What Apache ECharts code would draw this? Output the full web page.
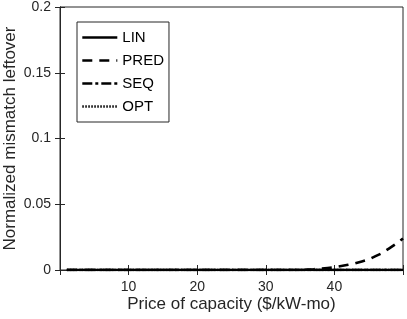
<!DOCTYPE html>
<html><head><meta charset="utf-8">
<script src="https://cdn.jsdelivr.net/npm/echarts@6/dist/echarts.min.js"></script>
<style>html,body{margin:0;padding:0;background:#fff}#c{width:407px;height:319px}</style>
</head><body><div id="c"></div>
<script>
const prices = [];
for (let p = 1; p <= 50; p++) prices.push(p);
const lin = [0,0,0,0,0,0,0,0,0,0,0,0,0,0,0,0,0,0,0,0,0,0,0,0,0,0,0,0,0,0,0,0,0,0,0,0,0,0,0,0,0,0,0,0,0,0,0,0,0,0];
const pred = [0,0,0,0,0,0,0,0,0,0,0,0,0,0,0,0,0,0,0,0,0,0,0,0,0,0,0,0,0,0,0,0,0,0,0,0.0003,0.0006,0.001,0.0015,0.002,0.003,0.004,0.005,0.0065,0.008,0.0105,0.013,0.0165,0.02,0.024];
const seq = [0,0,0,0,0,0,0,0,0,0,0,0,0,0,0,0,0,0,0,0,0,0,0,0,0,0,0,0,0,0,0,0,0,0,0,0,0,0,0,0,0,0,0,0,0,0,0,0,0,0];
const opt = [0,0,0,0,0,0,0,0,0,0,0,0,0,0,0,0,0,0,0,0,0,0,0,0,0,0,0,0,0,0,0,0,0,0,0,0,0,0,0,0,0,0,0,0,0,0,0,0,0,0];
const seriesNames = ['LIN','PRED','SEQ','OPT'];
const xTicks = [10,20,30,40];

const font = 'Liberation Sans, Arial, sans-serif';
const axisCol = '#262626';
function mk(name, vals, type) {
  return {
    name, type: 'line', symbol: 'none', showSymbol: false, animation: false,
    data: prices.map((p, i) => [p, vals[i]]),
    lineStyle: {color: '#000', width: 2.6, type: type},
    itemStyle: {color: '#000'}
  };
}
const chart = echarts.init(document.getElementById('c'));
chart.setOption({
  animation: false,
  grid: {left: 60, right: 4, top: 7, bottom: 49, show: true, borderColor: axisCol, borderWidth: 1,
    outerBoundsMode: 'none', containLabel: false},
  legend: {
    orient: 'vertical', left: 77, top: 22, data: seriesNames,
    backgroundColor: '#fff', borderColor: axisCol, borderWidth: 1,
    padding: [8, 5, 8, 4], itemGap: 8, itemWidth: 35, itemHeight: 15,
    itemStyle: {opacity: 0},
    lineStyle: {width: 2.6},
    textStyle: {fontFamily: font, fontSize: 15, color: '#000'}
  },
  xAxis: [{
    type: 'value', min: 0, max: 50, interval: 10,
    name: 'Price of capacity ($/kW-mo)', nameLocation: 'middle', nameGap: 26, nameMoveOverlap: false,
    nameTextStyle: {fontFamily: font, fontSize: 17, color: axisCol},
    axisLine: {show: true, onZero: false, lineStyle: {color: axisCol}},
    axisTick: {inside: true, length: 5, lineStyle: {color: axisCol}},
    axisLabel: {fontFamily: font, fontSize: 14, color: axisCol, margin: 10,
      formatter: v => xTicks.includes(v) ? String(v) : ''},
    splitLine: {show: false}
  }, {
    type: 'value', min: 0, max: 50, interval: 10, position: 'top',
    axisLine: {show: true, lineStyle: {color: axisCol}},
    axisTick: {inside: true, length: 5, lineStyle: {color: axisCol}},
    axisLabel: {show: false}, splitLine: {show: false}
  }],
  yAxis: [{
    type: 'value', min: 0, max: 0.2, interval: 0.05,
    name: 'Normalized mismatch leftover', nameLocation: 'middle', nameGap: 41, nameMoveOverlap: false,
    nameTextStyle: {fontFamily: font, fontSize: 17, color: axisCol},
    axisLine: {show: true, onZero: false, lineStyle: {color: axisCol}},
    axisTick: {show: true, inside: true, length: 5, lineStyle: {color: axisCol}},
    axisLabel: {fontFamily: font, fontSize: 14, color: axisCol, margin: 9,
      formatter: v => String(+v.toFixed(2))},
    splitLine: {show: false}
  }, {
    type: 'value', min: 0, max: 0.2, interval: 0.05, position: 'right',
    axisLine: {show: true, lineStyle: {color: axisCol}},
    axisTick: {show: true, inside: true, length: 5, lineStyle: {color: axisCol}},
    axisLabel: {show: false}, splitLine: {show: false}
  }],
  series: [
    mk('LIN', lin, 'solid'),
    mk('PRED', pred, [10, 7]),
    mk('SEQ', seq, [10, 3, 3, 3]),
    mk('OPT', opt, [1.5, 1.5])
  ]
});
</script></body></html>
